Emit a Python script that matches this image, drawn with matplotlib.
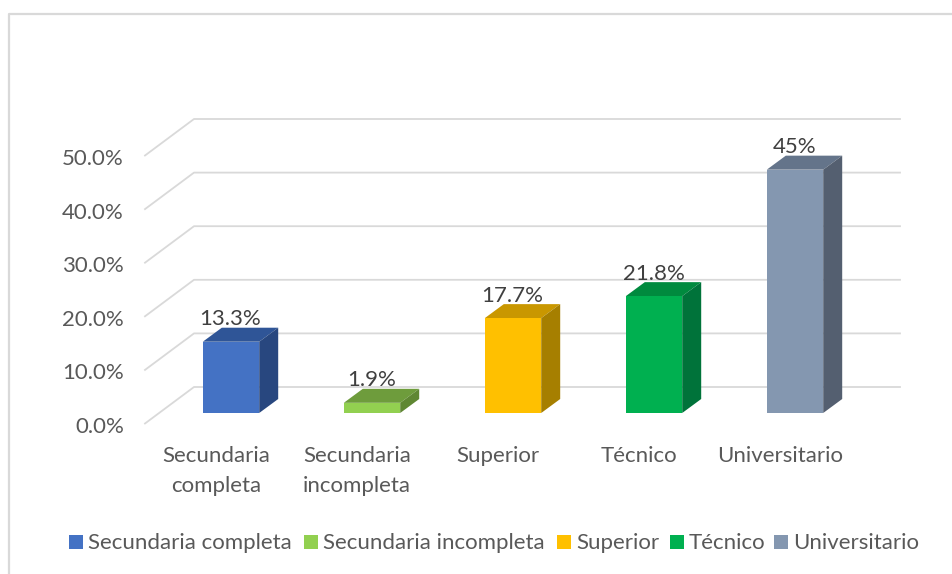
import matplotlib
matplotlib.use('Agg')
import matplotlib.pyplot as plt
from matplotlib.patches import Polygon, Rectangle

plt.rcParams['font.family'] = ['Lato', 'DejaVu Sans']

categories = ['Secundaria completa', 'Secundaria incompleta', 'Superior', 'Técnico', 'Universitario']
axis_labels = [['Secundaria', 'completa'], ['Secundaria', 'incompleta'], ['Superior'], ['Técnico'], ['Universitario']]
values = [13.3, 1.9, 17.7, 21.8, 45.4]
value_labels = ['13.3%', '1.9%', '17.7%', '21.8%', '45%']
y_ticks = [0, 10, 20, 30, 40, 50]
y_tick_labels = ['0.0%', '10.0%', '20.0%', '30.0%', '40.0%', '50.0%']

front_colors = ['#4472C4', '#92D050', '#FFC000', '#00B050', '#8497B0']
top_colors = ['#2F5597', '#6E9C3C', '#C99700', '#008A3E', '#64748A']
side_colors = ['#28477F', '#5F8733', '#A67F00', '#00733A', '#545F70']

# pixel layout of the picture, turned into data units below
W, H = 953, 574
x0_px, x_step = 231.0, 141.0
y0_px, y_step = 423.0, 5.36
font = 16

fig = plt.figure(figsize=(W / 100, H / 100), dpi=100)
ax = fig.add_axes([0, 0, 1, 1])
ax.set_xlim((0 - x0_px) / x_step, (W - x0_px) / x_step)
ax.set_ylim((y0_px - H) / y_step, y0_px / y_step)
ax.axis('off')


def dx(px):
    return px / x_step


def dy(px):
    return px / y_step


# chart frame
border = '#D9D9D9'
ax.plot([dx(8.5 - x0_px), dx(8.5 - x0_px), dx(W - x0_px)],
        [dy(y0_px - H), dy(y0_px - 14), dy(y0_px - 14)], color=border, lw=1.6, clip_on=False)

# grid, running from the front edge to the back wall
for t, lab in zip(y_ticks, y_tick_labels):
    ax.plot([dx(145 - x0_px), dx(194 - x0_px), dx(900 - x0_px)],
            [t - dy(0.5), t + dy(36), t + dy(36)], color='#D9D9D9', lw=1.3, zorder=1)
    ax.text(dx(124 - x0_px), t - dy(2), lab, ha='right', va='center_baseline', fontsize=font, color='#595959')

# bars
half = dx(28.2)
base = dy(10)
dep_x, dep_y = dx(19), dy(14)
for i, v in enumerate(values):
    l, r = i - half, i + half
    top = v + base
    ax.add_patch(Polygon([(l, top), (r, top), (r + dep_x, top + dep_y), (l + dep_x, top + dep_y)],
                         fc=top_colors[i], ec='none', zorder=3))
    ax.add_patch(Polygon([(r, base), (r + dep_x, base + dep_y), (r + dep_x, top + dep_y), (r, top)],
                         fc=side_colors[i], ec='none', zorder=3))
    ax.bar(i, top - base, width=r - l, bottom=base, color=front_colors[i], zorder=4)
    ax.text(i - dx(0.5), top + dep_y + dy(10.5), value_labels[i], ha='center', va='center_baseline',
            fontsize=font, color='#404040', zorder=5)
    for j, line in enumerate(axis_labels[i]):
        ax.text(i - dx(15), dy(y0_px - 454.5 - 29.5 * j), line, ha='center', va='center_baseline',
                fontsize=font, color='#595959')

# legend
legend_x = [69, 304, 557, 670, 774]
for c, col, px in zip(categories, front_colors, legend_x):
    ax.add_patch(Rectangle((dx(px - x0_px), dy(y0_px - 549)), dx(14), dy(14), fc=col, ec='none'))
    ax.text(dx(px + 19 - x0_px), dy(y0_px - 541), c, ha='left', va='center_baseline',
            fontsize=font, color='#595959')

fig.savefig('out.png', dpi=100)
